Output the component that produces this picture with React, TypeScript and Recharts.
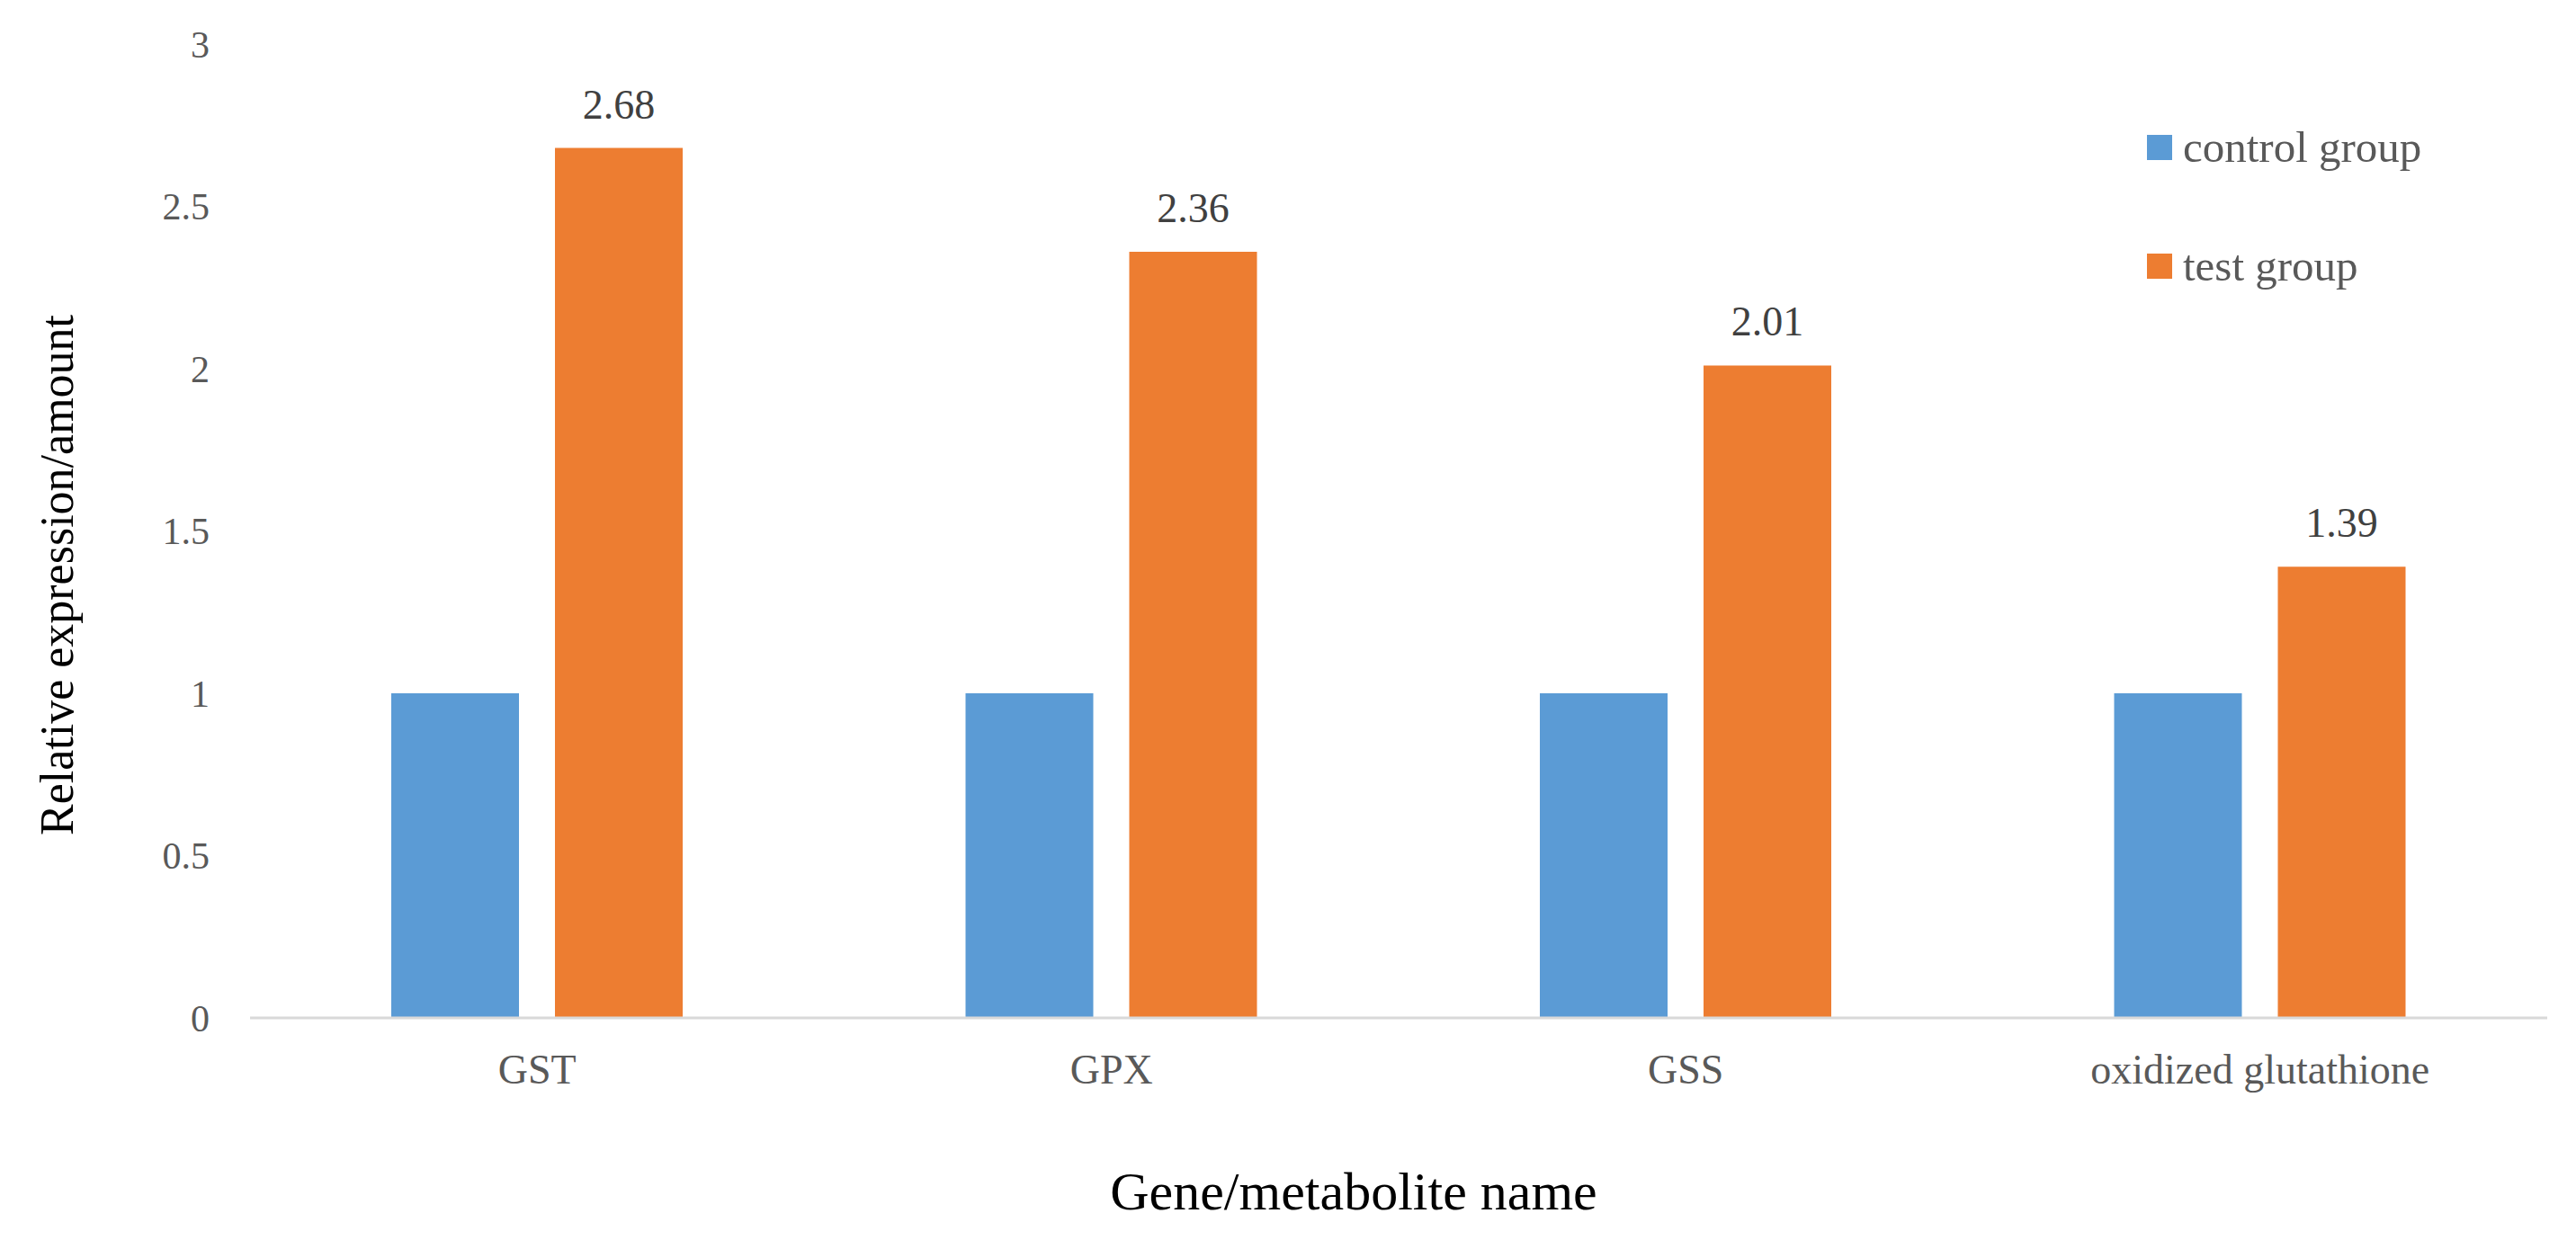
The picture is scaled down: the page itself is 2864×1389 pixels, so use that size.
import React from 'react';
import { BarChart, Bar, XAxis, YAxis, Legend, LabelList, Label } from 'recharts';

const categories = ['GST', 'GPX', 'GSS', 'oxidized glutathione'];
const controlValues = [1, 1, 1, 1];
const testValues = [2.68, 2.36, 2.01, 1.39];
const yTicks = [0, 0.5, 1, 1.5, 2, 2.5, 3];
const seriesNames = ['control group', 'test group'];
const seriesColors = ['#5B9BD5', '#ED7D31'];

const data = categories.map((name, i) => ({
  name,
  control: controlValues[i],
  test: testValues[i],
}));

const FONT = '"Liberation Serif", "Times New Roman", serif';

const legendContent = () => (
  <div style={{ fontFamily: FONT }}>
    {seriesNames.map((name, i) => (
      <div
        key={name}
        style={{ display: 'flex', alignItems: 'center', height: 56, marginBottom: i === 0 ? 76 : 0 }}
      >
        <span style={{ display: 'inline-block', width: 28, height: 28, background: seriesColors[i], marginRight: 12 }} />
        <span style={{ fontSize: 49, color: '#595959', lineHeight: '56px' }}>{name}</span>
      </div>
    ))}
  </div>
);

export default function App() {
  return (
    <div style={{ position: 'absolute', left: 0, top: 0, width: 2864, height: 1389, background: '#fff' }}>
      <BarChart
        width={2864}
        height={1389}
        data={data}
        margin={{ top: 49, right: 32, bottom: 227, left: 0 }}
        barGap={40}
        barSize={142}
      >
        <XAxis
          dataKey="name"
          height={30}
          axisLine={{ stroke: '#D9D9D9', strokeWidth: 3 }}
          tickLine={false}
          tickMargin={34}
          tick={{ fontSize: 46, fill: '#595959', fontFamily: FONT }}
          interval={0}
        >
          <Label
            value="Gene/metabolite name"
            position="bottom"
            content={(props: any) => {
              const vb = props.viewBox;
              const cx = vb.x + vb.width / 2 - 50;
              const cy = vb.y + 213;
              return (
                <text
                  x={cx}
                  y={cy}
                  textAnchor="middle"
                  style={{ fontSize: 60, fill: '#000', fontFamily: FONT }}
                >
                  Gene/metabolite name
                </text>
              );
            }}
          />
        </XAxis>
        <YAxis
          width={278}
          domain={[0, 3]}
          ticks={yTicks}
          axisLine={false}
          tickLine={false}
          tickMargin={39}
          tick={{ fontSize: 42, fill: '#595959', fontFamily: FONT }}
        >
          <Label
            value="Relative expression/amount"
            position="insideLeft"
            content={(props: any) => {
              const vb = props.viewBox;
              const cx = vb.x + 63;
              const cy = vb.y + vb.height / 2 + 49;
              return (
                <text
                  x={cx}
                  y={cy}
                  transform={`rotate(-90 ${cx} ${cy})`}
                  textAnchor="middle"
                  dominantBaseline="central"
                  style={{ fontSize: 52, fill: '#000', fontFamily: FONT }}
                >
                  Relative expression/amount
                </text>
              );
            }}
          />
        </YAxis>
        <Legend
          layout="vertical"
          verticalAlign="middle"
          align="center"
          content={legendContent}
          wrapperStyle={{ left: 2387, top: 136, width: 420 }}
        />
        <Bar dataKey="control" name={seriesNames[0]} fill={seriesColors[0]} isAnimationActive={false} />
        <Bar dataKey="test" name={seriesNames[1]} fill={seriesColors[1]} isAnimationActive={false}>
          <LabelList
            dataKey="test"
            position="top"
            offset={33}
            style={{ fontSize: 46, fill: '#404040', fontFamily: FONT }}
          />
        </Bar>
      </BarChart>
    </div>
  );
}
